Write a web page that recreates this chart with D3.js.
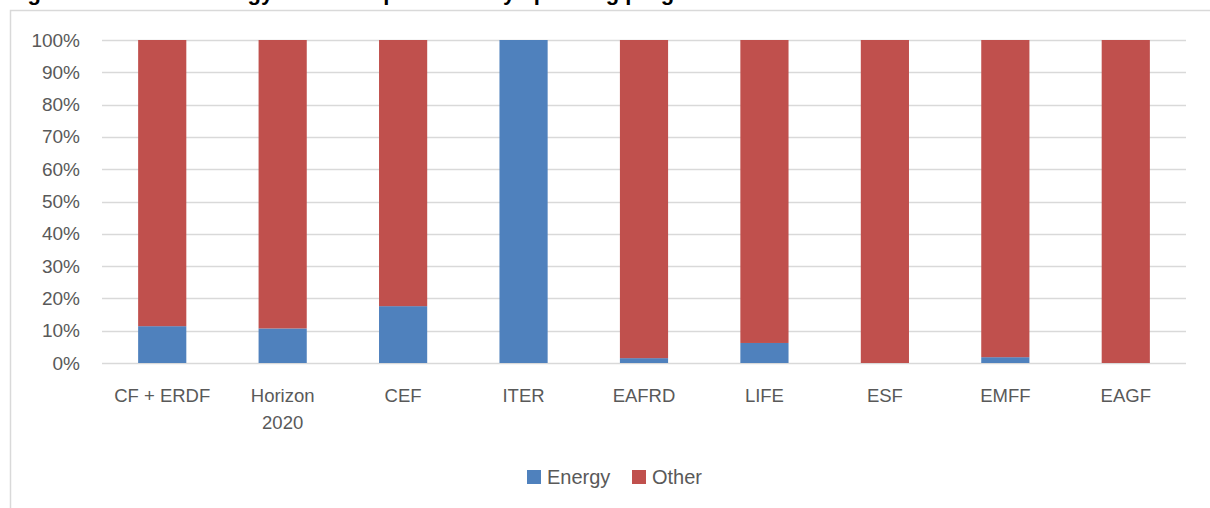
<!DOCTYPE html>
<html>
<head>
<meta charset="utf-8">
<script src="https://cdn.jsdelivr.net/npm/d3@7"></script>
<style>
  body { margin: 0; background: #fff; overflow: hidden; }
  text { font-family: "Liberation Sans", Arial, sans-serif; }
</style>
</head>
<body>
<div id="chart"></div>
<script>
// programmes and energy share
var programmes = ["CF + ERDF", "Horizon 2020", "CEF", "ITER", "EAFRD", "LIFE", "ESF", "EMFF", "EAGF"];
var energyShare = [11.4, 10.7, 17.6, 100, 1.5, 6.2, 0, 1.8, 0];
var otherShare = [88.6, 89.3, 82.4, 0, 98.5, 93.8, 100, 98.2, 100];
var seriesNames = ["Energy", "Other"];
var seriesColors = ["#4F81BD", "#C0504D"];
var yTicks = [0, 10, 20, 30, 40, 50, 60, 70, 80, 90, 100];

var svgWidth = 1210;
var svgHeight = 508;

var margin = { top: 40, right: 24, bottom: 145, left: 102 };
var width = svgWidth - margin.left - margin.right;
var height = 363 - margin.top;

var svg = d3.select("#chart")
  .append("svg")
  .attr("width", svgWidth)
  .attr("height", svgHeight);

// title, mostly cut off at the top of the picture (as in the reference)
svg.append("text")
  .attr("x", 8)
  .attr("y", 0)
  .attr("font-size", 22)
  .attr("font-weight", "bold")
  .attr("fill", "#000")
  .text("Figure 3: Share of energy-related expenditure by spending programme");

// chart frame
svg.append("rect")
  .attr("x", 10.5)
  .attr("y", 10.5)
  .attr("width", 1250)
  .attr("height", 600)
  .attr("fill", "#fff")
  .attr("stroke", "#D9D9D9")
  .attr("stroke-width", 1.5);

var chartGroup = svg.append("g")
  .attr("transform", `translate(${margin.left}, ${margin.top})`);

var rows = programmes.map((p, i) => ({ name: p, Energy: energyShare[i], Other: otherShare[i] }));
var stacked = d3.stack().keys(seriesNames)(rows);

var x = d3.scaleBand()
  .domain(programmes)
  .range([0, width])
  .paddingInner(0.6)
  .paddingOuter(0.3);

var y = d3.scaleLinear()
  .domain([0, 100])
  .range([height, 0]);

// gridlines
chartGroup.append("g")
  .selectAll("line")
  .data(yTicks)
  .enter()
  .append("line")
  .attr("x1", 0)
  .attr("x2", width)
  .attr("y1", d => Math.round(y(d)) + 0.5)
  .attr("y2", d => Math.round(y(d)) + 0.5)
  .attr("stroke", "#D9D9D9")
  .attr("stroke-width", 1.5);

// y axis labels
var yAxis = chartGroup.append("g")
  .call(d3.axisLeft(y).tickValues(yTicks).tickFormat(d => d + "%").tickSize(0).tickPadding(22));
yAxis.select(".domain").remove();
yAxis.selectAll("text")
  .attr("font-size", 19)
  .attr("fill", "#595959")
  .style("font-family", "Liberation Sans, Arial, sans-serif");

// bars
chartGroup.selectAll("g.series")
  .data(stacked)
  .enter()
  .append("g")
  .attr("class", "series")
  .attr("fill", (d, i) => seriesColors[i])
  .selectAll("rect")
  .data(d => d)
  .enter()
  .append("rect")
  .attr("x", d => x(d.data.name))
  .attr("y", d => y(d[1]))
  .attr("width", x.bandwidth())
  .attr("height", d => y(d[0]) - y(d[1]));

// x axis labels (Horizon 2020 wraps)
var xAxis = chartGroup.append("g")
  .attr("transform", `translate(0, ${height})`);
programmes.forEach(function(p) {
  var words = p === "Horizon 2020" ? ["Horizon", "2020"] : [p];
  var t = xAxis.append("text")
    .attr("x", x(p) + x.bandwidth() / 2)
    .attr("y", 39)
    .attr("text-anchor", "middle")
    .attr("font-size", 18.5)
    .attr("fill", "#595959");
  words.forEach(function(w, i) {
    t.append("tspan")
      .attr("x", x(p) + x.bandwidth() / 2)
      .attr("dy", i === 0 ? 0 : 27)
      .text(w);
  });
});

// legend
var legend = svg.append("g");
var legendX = [527, 632];
seriesNames.forEach(function(s, i) {
  legend.append("rect")
    .attr("x", legendX[i])
    .attr("y", 470)
    .attr("width", 14)
    .attr("height", 14)
    .attr("fill", seriesColors[i]);
  legend.append("text")
    .attr("x", legendX[i] + 20)
    .attr("y", 484)
    .attr("font-size", 20)
    .attr("fill", "#595959")
    .text(s);
});
</script>
</body>
</html>
